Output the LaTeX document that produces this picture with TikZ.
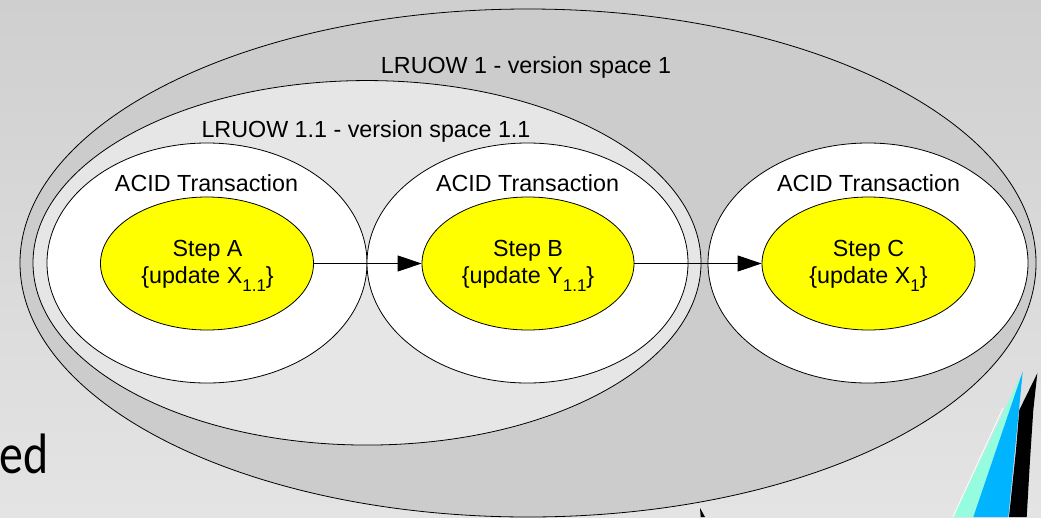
\documentclass[tikz,border=0pt]{standalone}
\usepackage{fontspec}
\setmainfont{Liberation Sans}
\newfontfamily\slidefont{Carlito}
\usetikzlibrary{shapes.geometric,arrows.meta}

\definecolor{bgtop}{HTML}{CFCFCF}
\definecolor{bgbot}{HTML}{E4E4E4}
\definecolor{outerfill}{HTML}{CCCCCC}
\definecolor{innerfill}{HTML}{E6E6E6}
\definecolor{stepfill}{HTML}{FFFF00}
\definecolor{shardaqua}{HTML}{96FCE0}
\definecolor{shardblue}{HTML}{00B4FF}

\tikzset{
  ring/.style={ellipse, draw=black, line width=0.8pt, inner sep=0pt, outer sep=0pt},
  lbl/.style={font=\fontsize{23.3}{27}\selectfont, inner sep=0pt, anchor=base},
  flow/.style={line width=0.8pt, -{Triangle[length=24pt,width=16pt]}, shorten >=0.4pt},
}
\newcommand{\sub}[1]{\raisebox{-8.4pt}{\fontsize{17}{17}\selectfont #1}}

\begin{document}
\begin{tikzpicture}[x=1pt,y=-1pt]
\useasboundingbox (0,0) rectangle (1041,517);
\fill[top color=bgtop, bottom color=bgbot] (0,0) rectangle (1041,517);

% slide leftovers around the diagram
\node[font=\slidefont\fontsize{57}{57}\selectfont, inner sep=0pt, anchor=base west] (edtext) at (-1,473) {\scalebox{0.84}[1]{ed}};
\fill[shardaqua] (1022.7,372) -- (953,517) -- (973.3,517) -- cycle;
\draw[white, line width=0.8pt] (1003,408) -- (953,517);
\fill[shardblue] (1022.7,371.7) -- (973.3,517) -- (1008.3,517) -- cycle;
\fill[black] (1037.3,373.3) -- (1019.3,410) -- (1016,450) -- (1009,517) -- (1026.7,517)
   -- (1030,460) -- (1033.3,410) -- cycle;
\fill[black] (700,508) -- (700.7,517) -- (705,517) -- cycle;

% version spaces
\node[ring, fill=outerfill, minimum width=1016pt, minimum height=508pt] (lr1) at (528,263) {};
\node[ring, fill=innerfill, minimum width=668pt, minimum height=364.5pt] (lr11) at (367,262.8) {};

% ACID transactions
\node[ring, fill=white, minimum width=320pt, minimum height=240pt] (acidA) at (207,263) {};
\node[ring, fill=white, minimum width=321pt, minimum height=240pt] (acidB) at (527.5,263) {};
\node[ring, fill=white, minimum width=320pt, minimum height=240pt] (acidC) at (868,263) {};

% steps
\node[ring, fill=stepfill, minimum width=213pt, minimum height=133pt] (stepA) at (207,263.5) {};
\node[ring, fill=stepfill, minimum width=212pt, minimum height=133pt] (stepB) at (528,263.5) {};
\node[ring, fill=stepfill, minimum width=213pt, minimum height=133pt] (stepC) at (868.5,263.5) {};

\draw[flow] (stepA.east) -- (stepB.west);
\draw[flow] (stepB.east) -- (stepC.west);

% labels
\node[lbl] (t1) at (526,73.3) {LRUOW 1 - version space 1};
\node[lbl] (t11) at (366,137) {LRUOW 1.1 - version space 1.1};
\node[lbl] (tA) at (206.5,191) {ACID Transaction};
\node[lbl] (tB) at (527.5,191) {ACID Transaction};
\node[lbl] (tC) at (868.5,191) {ACID Transaction};

\node[lbl] (sA1) at (207.5,256) {Step A};
\node[lbl] (sA2) at (207.5,283.3) {\{update X\sub{1.1}\}};
\node[lbl] (sB1) at (528,256) {Step B};
\node[lbl] (sB2) at (528,283.3) {\{update Y\sub{1.1}\}};
\node[lbl] (sC1) at (868.5,256) {Step C};
\node[lbl] (sC2) at (868.5,283.3) {\{update X\sub{1}\}};
\end{tikzpicture}
\end{document}
